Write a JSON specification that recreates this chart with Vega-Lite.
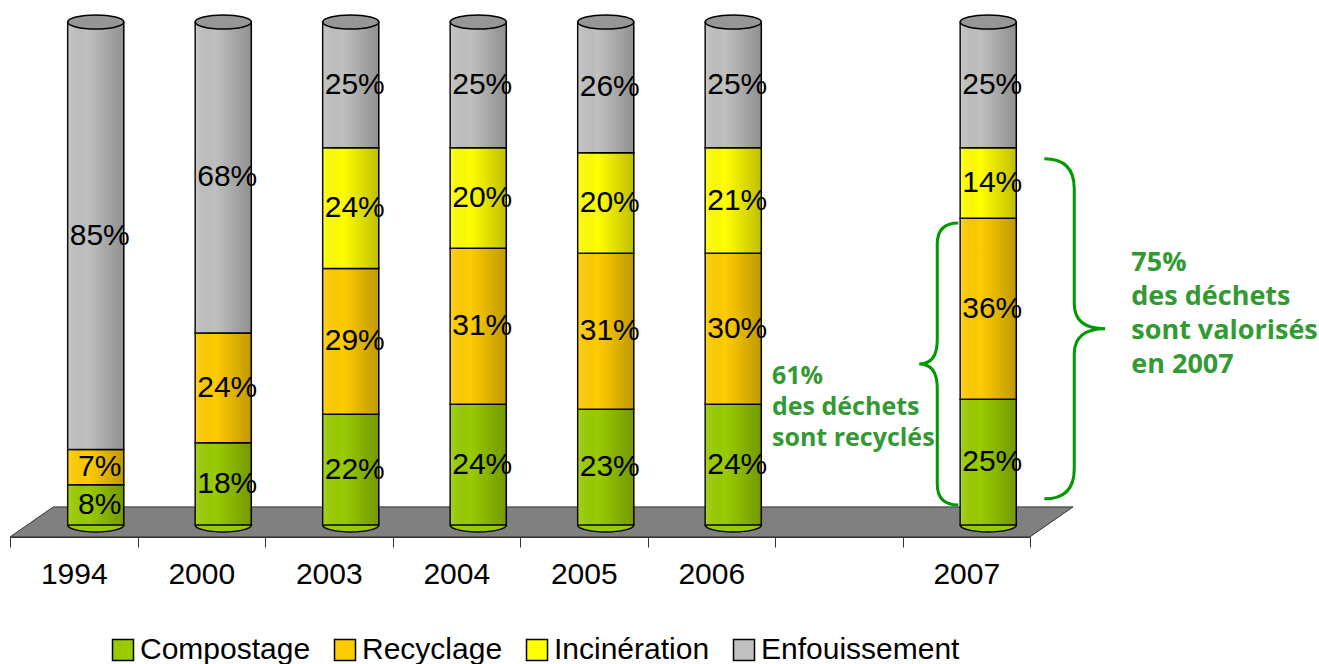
{
  "$schema": "https://vega.github.io/schema/vega-lite/v6.json",
  "background": "white",
  "autosize": {"type": "none"},
  "padding": {"left": 10, "top": 15, "right": 289, "bottom": 127},
  "width": 1020,
  "height": 522,
  "config": {
    "view": {"stroke": null},
    "axis": {"grid": false},
    "axisX": {
      "title": null,
      "labelAngle": 0,
      "labelFont": "Liberation Sans",
      "labelFontSize": 30,
      "labelColor": "black",
      "labelPadding": 12,
      "tickBand": "extent",
      "tickSize": 10,
      "tickColor": "#333333",
      "domainColor": "#333333"
    },
    "text": {"font": "Liberation Sans"}
  },
  "datasets": {
    "parts": [
      {"Annee": "1994", "Type": "Compostage", "Part": 0.08},
      {"Annee": "1994", "Type": "Recyclage", "Part": 0.07},
      {"Annee": "1994", "Type": "Enfouissement", "Part": 0.85},
      {"Annee": "2000", "Type": "Compostage", "Part": 0.18},
      {"Annee": "2000", "Type": "Recyclage", "Part": 0.24},
      {"Annee": "2000", "Type": "Enfouissement", "Part": 0.68},
      {"Annee": "2003", "Type": "Compostage", "Part": 0.22},
      {"Annee": "2003", "Type": "Recyclage", "Part": 0.29},
      {"Annee": "2003", "Type": "Incinération", "Part": 0.24},
      {"Annee": "2003", "Type": "Enfouissement", "Part": 0.25},
      {"Annee": "2004", "Type": "Compostage", "Part": 0.24},
      {"Annee": "2004", "Type": "Recyclage", "Part": 0.31},
      {"Annee": "2004", "Type": "Incinération", "Part": 0.20},
      {"Annee": "2004", "Type": "Enfouissement", "Part": 0.25},
      {"Annee": "2005", "Type": "Compostage", "Part": 0.23},
      {"Annee": "2005", "Type": "Recyclage", "Part": 0.31},
      {"Annee": "2005", "Type": "Incinération", "Part": 0.20},
      {"Annee": "2005", "Type": "Enfouissement", "Part": 0.26},
      {"Annee": "2006", "Type": "Compostage", "Part": 0.24},
      {"Annee": "2006", "Type": "Recyclage", "Part": 0.30},
      {"Annee": "2006", "Type": "Incinération", "Part": 0.21},
      {"Annee": "2006", "Type": "Enfouissement", "Part": 0.25},
      {"Annee": "2007", "Type": "Compostage", "Part": 0.25},
      {"Annee": "2007", "Type": "Recyclage", "Part": 0.36},
      {"Annee": "2007", "Type": "Incinération", "Part": 0.14},
      {"Annee": "2007", "Type": "Enfouissement", "Part": 0.25}
    ]
  },
  "layer": [
    {
      "data": {"values": [{}]},
      "mark": {
        "type": "point",
        "filled": true,
        "fill": "#808080",
        "stroke": "#333333",
        "strokeWidth": 1,
        "opacity": 1,
        "size": 1223236,
        "shape": "M -0.922 0.0271 L -0.844 -0.0271 L 1 -0.0271 L 0.922 0.0271 Z"
      },
      "encoding": {
        "y": {"datum": 0.006, "type": "quantitative", "scale": {"domain": [-0.024, 1.014], "nice": false, "zero": false}, "axis": null}
      }
    },
    {
      "data": {"name": "parts"},
      "transform": [
        {"calculate": "indexof(['Compostage','Recyclage','Incinération','Enfouissement'], datum.Type)", "as": "ordre"},
        {"stack": "Part", "groupby": ["Annee"], "sort": [{"field": "ordre", "order": "ascending"}], "offset": "normalize", "as": ["y0", "y1"]},
        {"calculate": "(datum.y0 + datum.y1) / 2", "as": "mid"}
      ],
      "encoding": {
        "x": {
          "field": "Annee",
          "type": "ordinal",
          "scale": {"domain": ["1994", "2000", "2003", "2004", "2005", "2006", " ", "2007"], "paddingInner": 0, "paddingOuter": 0}
        }
      },
      "layer": [
        {
          "transform": [{"filter": "datum.Type == 'Compostage'"}],
          "mark": {
            "type": "point",
            "filled": true,
            "fill": "#99CC00",
            "stroke": "black",
            "strokeWidth": 1.5,
            "opacity": 1,
            "size": 3136,
            "xOffset": 22,
            "shape": "M -1 0 C -1 -0.138 -0.552 -0.25 0 -0.25 C 0.552 -0.25 1 -0.138 1 0 C 1 0.138 0.552 0.25 0 0.25 C -0.552 0.25 -1 0.138 -1 0 Z"
          },
          "encoding": {
            "y": {"field": "y0", "type": "quantitative", "scale": {"domain": [-0.024, 1.014], "nice": false, "zero": false}, "axis": null}
          }
        },
        {
          "mark": {"type": "bar", "stroke": "black", "strokeWidth": 1.5, "width": {"band": 0.44}, "xOffset": 22},
          "encoding": {
            "y": {"field": "y0", "type": "quantitative", "scale": {"domain": [-0.024, 1.014], "nice": false, "zero": false}, "axis": null},
            "y2": {"field": "y1"},
            "color": {
              "field": "Type",
              "type": "nominal",
              "scale": {
                "domain": ["Compostage", "Recyclage", "Incinération", "Enfouissement"],
                "range": ["#99CC00", "#FFCC00", "#FFFF00", "#C0C0C0"]
              },
              "legend": {
                "orient": "none",
                "legendX": 98,
                "legendY": 620,
                "direction": "horizontal",
                "title": null,
                "symbolType": "square",
                "symbolSize": 441,
                "symbolStrokeColor": "black",
                "symbolStrokeWidth": 1.5,
                "symbolOpacity": 1,
                "labelFont": "Liberation Sans",
                "labelFontSize": 30,
                "labelColor": "black",
                "labelOffset": 2,
                "labelLimit": 400,
                "columnPadding": 19
              }
            }
          }
        },
        {
          "mark": {
            "type": "bar",
            "width": {"band": 0.44},
            "xOffset": 22,
            "fill": {
              "gradient": "linear",
              "x1": 0, "y1": 0, "x2": 1, "y2": 0,
              "stops": [
                {"offset": 0, "color": "rgba(255,255,255,0.12)"},
                {"offset": 0.35, "color": "rgba(0,0,0,0)"},
                {"offset": 1, "color": "rgba(0,0,0,0.25)"}
              ]
            }
          },
          "encoding": {
            "y": {"field": "y0", "type": "quantitative", "scale": {"domain": [-0.024, 1.014], "nice": false, "zero": false}, "axis": null},
            "y2": {"field": "y1"}
          }
        },
        {
          "transform": [{"filter": "datum.Type == 'Enfouissement'"}],
          "mark": {
            "type": "point",
            "filled": true,
            "fill": "#969696",
            "stroke": "black",
            "strokeWidth": 1.5,
            "opacity": 1,
            "size": 3136,
            "xOffset": 22,
            "shape": "M -1 0 C -1 -0.138 -0.552 -0.25 0 -0.25 C 0.552 -0.25 1 -0.138 1 0 C 1 0.138 0.552 0.25 0 0.25 C -0.552 0.25 -1 0.138 -1 0 Z"
          },
          "encoding": {
            "y": {"field": "y1", "type": "quantitative", "scale": {"domain": [-0.024, 1.014], "nice": false, "zero": false}, "axis": null}
          }
        },
        {
          "mark": {"type": "text", "font": "Liberation Sans", "fontSize": 30, "color": "black", "xOffset": 26, "baseline": "middle"},
          "encoding": {
            "y": {"field": "mid", "type": "quantitative", "scale": {"domain": [-0.024, 1.014], "nice": false, "zero": false}, "axis": null},
            "text": {"field": "Part", "type": "quantitative", "format": ".0%"}
          }
        }
      ]
    },
    {
      "data": {"values": [{}]},
      "mark": {
        "type": "point",
        "filled": false,
        "color": "#009900",
        "strokeWidth": 3,
        "opacity": 1,
        "size": 79524,
        "xOffset": -29,
        "shape": "M 0.149 -1 Q 0 -1 0 -0.851 L 0 -0.17 Q 0 0 -0.128 0 Q 0 0 0 0.17 L 0 0.851 Q 0 1 0.149 1"
      },
      "encoding": {
        "x": {"datum": "2007", "type": "ordinal", "scale": {"domain": ["1994", "2000", "2003", "2004", "2005", "2006", " ", "2007"], "paddingInner": 0, "paddingOuter": 0}},
        "y": {"datum": 0.32, "type": "quantitative", "scale": {"domain": [-0.024, 1.014], "nice": false, "zero": false}, "axis": null}
      }
    },
    {
      "data": {"values": [{}]},
      "mark": {
        "type": "point",
        "filled": false,
        "color": "#009900",
        "strokeWidth": 3,
        "opacity": 1,
        "size": 115600,
        "xOffset": 108,
        "shape": "M -0.176 -1 Q 0 -1 0 -0.824 L 0 -0.147 Q 0 0 0.182 0 Q 0 0 0 0.147 L 0 0.824 Q 0 1 -0.176 1"
      },
      "encoding": {
        "x": {"datum": "2007", "type": "ordinal", "scale": {"domain": ["1994", "2000", "2003", "2004", "2005", "2006", " ", "2007"], "paddingInner": 0, "paddingOuter": 0}},
        "y": {"datum": 0.39, "type": "quantitative", "scale": {"domain": [-0.024, 1.014], "nice": false, "zero": false}, "axis": null}
      }
    },
    {
      "data": {"values": [{}]},
      "mark": {
        "type": "text",
        "text": "61%\ndes déchets\nsont recyclés",
        "lineBreak": "\n",
        "font": "Open Sans",
        "fontWeight": "bold",
        "fontSize": 25,
        "lineHeight": 31,
        "color": "#339933",
        "align": "left",
        "baseline": "middle",
        "dx": -3
      },
      "encoding": {
        "x": {"datum": " ", "type": "ordinal", "bandPosition": 0, "scale": {"domain": ["1994", "2000", "2003", "2004", "2005", "2006", " ", "2007"], "paddingInner": 0, "paddingOuter": 0}},
        "y": {"datum": 0.296, "type": "quantitative", "scale": {"domain": [-0.024, 1.014], "nice": false, "zero": false}, "axis": null}
      }
    },
    {
      "data": {"values": [{}]},
      "mark": {
        "type": "text",
        "text": "75%\ndes déchets\nsont valorisés\nen 2007",
        "lineBreak": "\n",
        "font": "Open Sans",
        "fontWeight": "bold",
        "fontSize": 27,
        "lineHeight": 34,
        "color": "#339933",
        "align": "left",
        "baseline": "middle",
        "dx": 165
      },
      "encoding": {
        "x": {"datum": "2007", "type": "ordinal", "scale": {"domain": ["1994", "2000", "2003", "2004", "2005", "2006", " ", "2007"], "paddingInner": 0, "paddingOuter": 0}},
        "y": {"datum": 0.521, "type": "quantitative", "scale": {"domain": [-0.024, 1.014], "nice": false, "zero": false}, "axis": null}
      }
    }
  ]
}
